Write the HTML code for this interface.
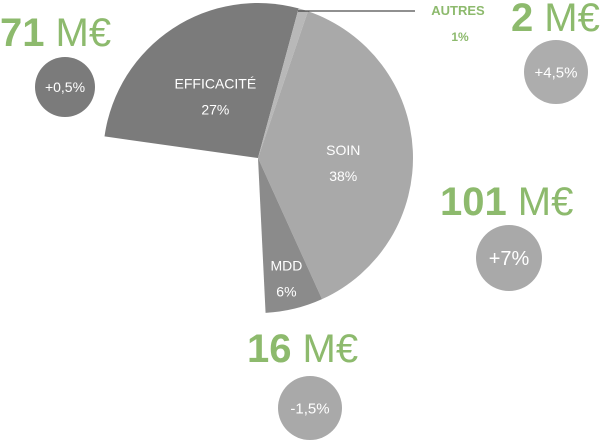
<!DOCTYPE html>
<html><head><meta charset="utf-8"><style>
body{margin:0;background:#fff;width:614px;height:440px;overflow:hidden;font-family:"Liberation Sans",sans-serif}
svg{display:block}
.num{font-weight:bold;fill:#8dba6d}
.unit{font-weight:normal;fill:#8dba6d;font-size:40px}
</style></head><body>
<svg width="614" height="440">
<g id="slices"></g>
<g id="labels"></g>
<line x1="298" y1="11" x2="415" y2="11" stroke="#222" stroke-width="1"/>
<text x="458" y="15" text-anchor="middle" font-size="13" font-weight="bold" fill="#8dba6d">AUTRES</text>
<text x="460" y="41" text-anchor="middle" font-size="12" font-weight="bold" fill="#8dba6d">1%</text>
<text x="0" y="46"><tspan class="num" font-size="40">71</tspan><tspan class="unit" dx="11">M€</tspan></text>
<text x="511" y="31"><tspan class="num" font-size="40">2</tspan><tspan class="unit" dx="11">M€</tspan></text>
<text x="440" y="215"><tspan class="num" font-size="40">101</tspan><tspan class="unit" dx="11">M€</tspan></text>
<text x="247" y="362"><tspan class="num" font-size="40">16</tspan><tspan class="unit" dx="11">M€</tspan></text>
<g id="bubbles"></g>
</svg>
<script>
const categories=["EFFICACITÉ","AUTRES","SOIN","MDD"];
const shares=[27,1,38,6];
const growth=["+0,5%","+4,5%","+7%","-1,5%"];
const colors=["#7b7b7b","#b8b8b8","#a9a9a9","#8b8b8b"];
const NS="http://www.w3.org/2000/svg";
const cx=258,cy=158,r=155,startDeg=-82;
function pt(deg,rad){const a=(deg-90)*Math.PI/180;return [cx+rad*Math.cos(a),cy+rad*Math.sin(a)];}
const sg=document.getElementById('slices'),lg=document.getElementById('labels');
let acc=startDeg;
shares.forEach((s,i)=>{
  const a0=acc,a1=acc+s*3.6;acc=a1;
  const p0=pt(a0,r),p1=pt(a1,r);
  const p=document.createElementNS(NS,'path');
  p.setAttribute('d',`M${cx},${cy}L${p0[0]},${p0[1]}A${r},${r} 0 ${a1-a0>180?1:0} 1 ${p1[0]},${p1[1]}Z`);
  p.setAttribute('fill',colors[i]);
  
  
  sg.appendChild(p);
  if(i!==1){
    const mid=(a0+a1)/2;
    const lp=pt(mid+(i===2?4:0),r*(i===0?0.5:i===2?0.55:0.78));
    const t=document.createElementNS(NS,'text');
    t.setAttribute('x',lp[0]);t.setAttribute('y',lp[1]-5);
    t.setAttribute('text-anchor','middle');t.setAttribute('font-size','14');t.setAttribute('fill','#fff');
    t.textContent=categories[i];
    
    
    lg.appendChild(t);
    const t2=document.createElementNS(NS,'text');
    t2.setAttribute('x',lp[0]);t2.setAttribute('y',lp[1]+21);
    t2.setAttribute('text-anchor','middle');t2.setAttribute('font-size','14');t2.setAttribute('fill','#fff');
    t2.textContent=s+'%';
    
    
    lg.appendChild(t2);
  }
});
const bubblePos=[[65,87,30,"#7b7b7b",14],[556,72,32,"#adadad",15],[509,258,33,"#a9a9a9",20],[310,408,32,"#a9a9a9",15]];
const bg=document.getElementById('bubbles');
growth.forEach((g,i)=>{
  const [x,y,rr,c,fs]=bubblePos[i];
  const ci=document.createElementNS(NS,'circle');
  ci.setAttribute('cx',x);ci.setAttribute('cy',y);ci.setAttribute('r',rr);ci.setAttribute('fill',c);
  
  
  bg.appendChild(ci);
  const t=document.createElementNS(NS,'text');
  t.setAttribute('x',x);t.setAttribute('y',y+fs*0.36);t.setAttribute('text-anchor','middle');
  t.setAttribute('font-size',fs);t.setAttribute('fill','#fff');
  t.textContent=g;
  
  
  bg.appendChild(t);
});
</script>
</body></html>
